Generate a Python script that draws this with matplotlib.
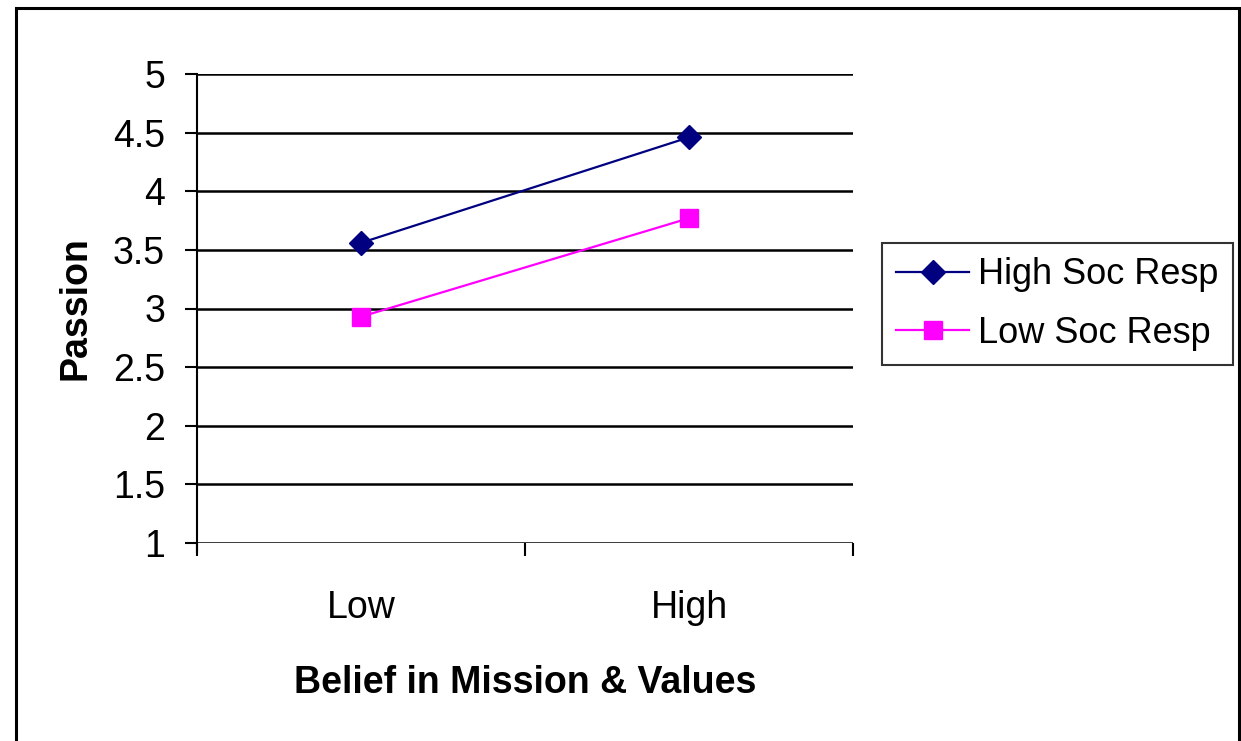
import matplotlib
matplotlib.use("Agg")
import matplotlib.pyplot as plt
from matplotlib.patches import Rectangle

# данные
categories = ['Low', 'High']
high_soc = [3.56, 4.46]
low_soc = [2.93, 3.77]
y_ticks = [1, 1.5, 2, 2.5, 3, 3.5, 4, 4.5, 5]
y_labels = ['1', '1.5', '2', '2.5', '3', '3.5', '4', '4.5', '5']

plt.rcParams['font.family'] = ['Liberation Sans', 'DejaVu Sans']

fig = plt.figure(figsize=(12.41, 7.41), dpi=100)
fig.patches.append(Rectangle((16 / 1241, -0.05), 1223 / 1241, 1.05 - 8 / 741,
                             transform=fig.transFigure, fill=False,
                             edgecolor='black', linewidth=2.2))

ax = fig.add_axes([197 / 1241, 1 - 543 / 741, 656 / 1241, 469 / 741])

x = [i + 0.5 for i in range(len(categories))]
ax.plot(x, high_soc, color='#000080', marker='D', markersize=12, linewidth=1.6,
        label='High Soc Resp')
ax.plot(x, low_soc, color='#ff00ff', marker='s', markersize=13, linewidth=1.6,
        label='Low Soc Resp')

ax.set_xlim(0, 2)
ax.set_ylim(1, 5)
ax.set_yticks(y_ticks)
ax.set_yticklabels(y_labels)
ax.yaxis.grid(True, color='black', linewidth=1.8)
ax.set_axisbelow(True)

ax.set_xticks([0, 1, 2])
ax.set_xticklabels(['', '', ''])
ax.set_xticks(x, minor=True)
ax.set_xticklabels(categories, minor=True)
ax.tick_params(axis='x', which='minor', length=0, pad=34, labelsize=27)
ax.tick_params(axis='x', which='major', length=9, width=1.5, direction='out')
ax.tick_params(axis='y', length=9, width=1.5, pad=14, labelsize=27)

for s in ['top', 'right', 'bottom']:
    ax.spines[s].set_visible(False)
ax.spines['left'].set_linewidth(1.5)
ax.spines['left'].set_bounds(0.92, 5)

ax.set_ylabel('Passion', fontsize=27, fontweight='bold', labelpad=14)
ax.set_xlabel('Belief in Mission & Values', fontsize=27, fontweight='bold', labelpad=28)

leg = ax.legend(loc='upper left', bbox_to_anchor=(882 / 1241, 1 - 243 / 741),
                bbox_transform=fig.transFigure, fontsize=26, frameon=True,
                fancybox=False, edgecolor='black', handlelength=2.0,
                borderpad=0.4, labelspacing=0.65, handletextpad=0.25,
                borderaxespad=0)
leg.get_frame().set_linewidth(1.5)

fig.savefig('out.png', dpi=100, facecolor='white')
